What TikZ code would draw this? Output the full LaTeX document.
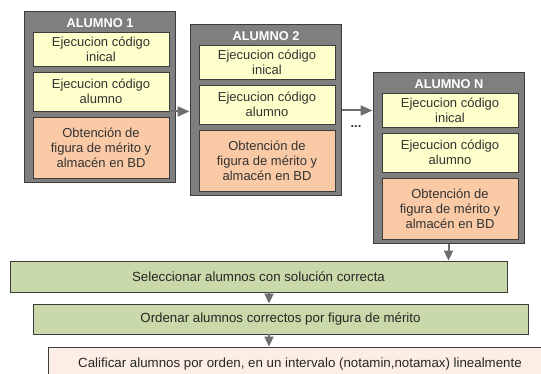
\documentclass[tikz,border=0pt]{standalone}
\usepackage{fontspec}
\setmainfont{Liberation Sans}
\usetikzlibrary{arrows.meta,calc}
\definecolor{outergray}{HTML}{7F7F7F}
\definecolor{edgegray}{HTML}{3C3C3C}
\definecolor{yel}{HTML}{FFFFCC}
\definecolor{peach}{HTML}{FAC9A5}
\definecolor{grn}{HTML}{CAD9A9}
\definecolor{pale}{HTML}{FDEEE5}
\definecolor{arrgray}{HTML}{6E6E6E}
\definecolor{txt}{HTML}{333333}
\tikzset{
  outerbox/.style={draw=edgegray, fill=outergray, line width=1pt, minimum width=151pt, minimum height=171pt, inner sep=0pt},
  titletext/.style={text=white, font=\bfseries\fontsize{12.8}{15}\selectfont, inner sep=0pt},
  innerbox/.style={draw=edgegray, line width=0.9pt, minimum width=136pt, inner sep=0pt, align=center, text=txt, font=\fontsize{13}{15}\selectfont},
  widebox/.style={draw=edgegray, line width=0.9pt, inner sep=0pt, align=center, text=black!85, font=\fontsize{13.3}{15}\selectfont},
  harr/.style={draw=arrgray, line width=2pt, -{Triangle[length=12pt,width=10pt]}},
  varr/.style={draw=arrgray, line width=2pt, -{Triangle[length=10pt,width=9pt]}},
}
\newcommand\alumnoblk[4]{%
  \node[outerbox] (#1) at (#3+75.5,#4+85.5) {};
  \node[titletext] (#1t) at (#3+76,#4+11) {#2};
  \node[innerbox, fill=yel, minimum height=34pt] (#1a) at (#3+77,#4+37) {Ejecucion código\\inical};
  \node[innerbox, fill=yel, minimum height=39pt] (#1b) at (#3+77,#4+79.5) {Ejecucion código\\alumno};
  \node[innerbox, fill=peach, minimum height=61pt] (#1c) at (#3+77,#4+135.5) {Obtención de\\figura de mérito y\\almacén en BD};
}
\begin{document}
\begin{tikzpicture}[x=1pt,y=-1pt]
\clip (0,0) rectangle (541,374);
\fill[white] (0,0) rectangle (541,374);
\alumnoblk{A1}{ALUMNO 1}{24}{12}
\alumnoblk{A2}{ALUMNO 2}{190}{25}
\alumnoblk{AN}{ALUMNO N}{373}{73}
\node[text=black!80, font=\bfseries\fontsize{13}{15}\selectfont, inner sep=0pt] (dots) at (356,127) {...};
\node[widebox, fill=grn, minimum width=497pt, minimum height=31pt] (G1) at (258.5,276.5) {Seleccionar alumnos con solución correcta};
\node[widebox, fill=grn, minimum width=495pt, minimum height=30pt] (G2) at (280.5,319) {Ordenar alumnos correctos por figura de mérito};
\node[widebox, fill=pale, minimum width=504pt, minimum height=34pt] (G3) at (300,364) {Calificar alumnos por orden, en un intervalo (notamin,notamax) linealmente};
\coordinate (ax) at (269,0);
\draw[harr] (A1b.south east) -- (A1b.south east -| A2.west);
\draw[harr] (A2.east) -- (A2.east -| AN.west);
\draw[varr] (AN.south) -- (AN.south |- G1.north);
\draw[varr] (ax |- G1.south) -- (ax |- G2.north);
\draw[varr] (ax |- G2.south) -- (ax |- G3.north);
\end{tikzpicture}
\end{document}
